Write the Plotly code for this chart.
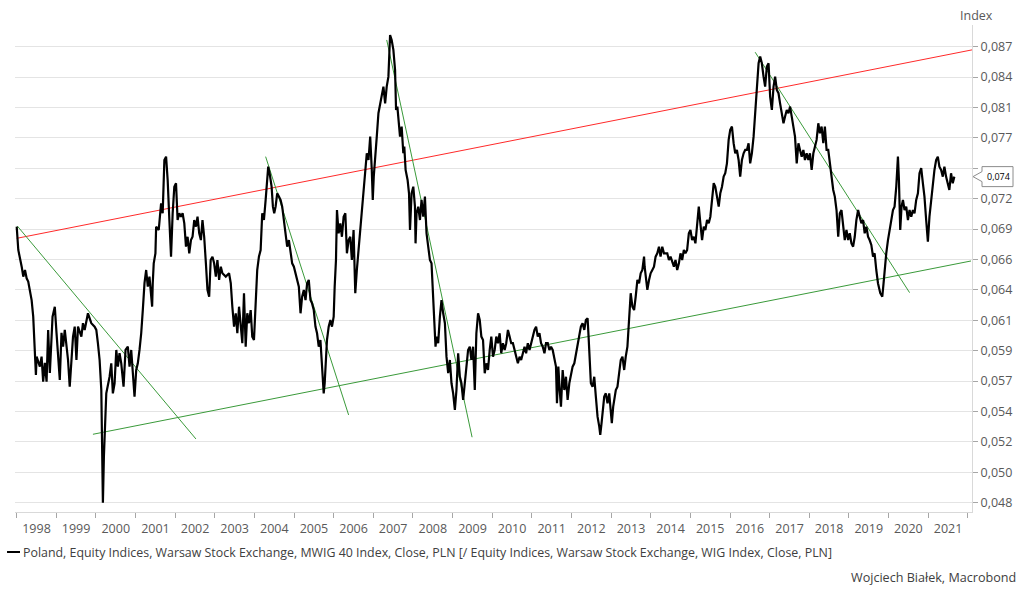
import numpy as np
import pandas as pd
import plotly.graph_objects as go

# ---------------- data ----------------
# decimal-year time stamps of the ratio MWIG40 / WIG
t = [1998.000, 1998.015, 1998.040, 1998.126, 1998.166, 1998.209, 1998.251, 1998.291, 1998.377, 1998.417,
     1998.460, 1998.485, 1998.503, 1998.585, 1998.628, 1998.668, 1998.711, 1998.754, 1998.794, 1998.837,
     1998.905, 1998.962, 1999.005, 1999.045, 1999.088, 1999.131, 1999.171, 1999.214, 1999.296, 1999.339,
     1999.382, 1999.422, 1999.465, 1999.508, 1999.548, 1999.633, 1999.673, 1999.716, 1999.799, 1999.884,
     1999.967, 2000.010, 2000.050, 2000.093, 2000.136, 2000.161, 2000.176, 2000.201, 2000.226, 2000.261,
     2000.344, 2000.387, 2000.427, 2000.470, 2000.513, 2000.553, 2000.595, 2000.638, 2000.696, 2000.746,
     2000.804, 2000.847, 2000.889, 2000.930, 2000.972, 2001.015, 2001.055, 2001.098, 2001.141, 2001.181,
     2001.224, 2001.266, 2001.307, 2001.349, 2001.392, 2001.417, 2001.432, 2001.457, 2001.500, 2001.518,
     2001.583, 2001.643, 2001.683, 2001.726, 2001.769, 2001.809, 2001.852, 2001.894, 2001.935, 2001.977,
     2002.020, 2002.060, 2002.103, 2002.146, 2002.186, 2002.229, 2002.271, 2002.312, 2002.354, 2002.397,
     2002.437, 2002.480, 2002.523, 2002.563, 2002.606, 2002.648, 2002.688, 2002.731, 2002.774, 2002.814,
     2002.857, 2002.895, 2002.940, 2002.982, 2003.025, 2003.065, 2003.108, 2003.151, 2003.191, 2003.276,
     2003.359, 2003.402, 2003.442, 2003.485, 2003.528, 2003.568, 2003.611, 2003.653, 2003.694, 2003.736,
     2003.779, 2003.819, 2003.862, 2003.905, 2003.945, 2003.988, 2004.030, 2004.070, 2004.113, 2004.156,
     2004.196, 2004.239, 2004.282, 2004.322, 2004.347, 2004.382, 2004.432, 2004.465, 2004.498, 2004.533,
     2004.573, 2004.616, 2004.658, 2004.699, 2004.741, 2004.784, 2004.824, 2004.867, 2004.910, 2004.950,
     2004.993, 2005.035, 2005.118, 2005.161, 2005.201, 2005.244, 2005.287, 2005.327, 2005.369, 2005.412,
     2005.452, 2005.495, 2005.538, 2005.578, 2005.621, 2005.663, 2005.704, 2005.746, 2005.771, 2005.804,
     2005.829, 2005.872, 2005.915, 2005.955, 2005.998, 2006.023, 2006.056, 2006.081, 2006.123, 2006.166,
     2006.206, 2006.249, 2006.292, 2006.332, 2006.375, 2006.417, 2006.457, 2006.500, 2006.543, 2006.583,
     2006.626, 2006.668, 2006.709, 2006.751, 2006.794, 2006.834, 2006.877, 2006.920, 2006.960, 2006.985,
     2007.010, 2007.045, 2007.086, 2007.128, 2007.171, 2007.211, 2007.254, 2007.297, 2007.337, 2007.380,
     2007.397, 2007.422, 2007.462, 2007.505, 2007.548, 2007.573, 2007.606, 2007.631, 2007.673, 2007.714,
     2007.756, 2007.781, 2007.814, 2007.864, 2007.900, 2007.925, 2007.965, 2008.008, 2008.050, 2008.065,
     2008.090, 2008.133, 2008.176, 2008.216, 2008.259, 2008.301, 2008.341, 2008.384, 2008.427, 2008.467,
     2008.510, 2008.535, 2008.568, 2008.593, 2008.635, 2008.678, 2008.718, 2008.761, 2008.804, 2008.844,
     2008.887, 2008.929, 2008.970, 2009.012, 2009.055, 2009.095, 2009.138, 2009.181, 2009.221, 2009.264,
     2009.306, 2009.347, 2009.389, 2009.432, 2009.472, 2009.515, 2009.558, 2009.598, 2009.641, 2009.683,
     2009.724, 2009.766, 2009.809, 2009.849, 2009.892, 2009.935, 2009.975, 2010.018, 2010.060, 2010.101,
     2010.143, 2010.186, 2010.226, 2010.269, 2010.312, 2010.352, 2010.395, 2010.437, 2010.478, 2010.520,
     2010.563, 2010.603, 2010.646, 2010.689, 2010.729, 2010.772, 2010.814, 2010.854, 2010.897, 2010.940,
     2010.980, 2011.023, 2011.065, 2011.106, 2011.148, 2011.191, 2011.231, 2011.274, 2011.317, 2011.357,
     2011.400, 2011.442, 2011.483, 2011.525, 2011.568, 2011.608, 2011.633, 2011.668, 2011.701, 2011.734,
     2011.777, 2011.819, 2011.860, 2011.902, 2011.945, 2011.985, 2012.028, 2012.071, 2012.111, 2012.153,
     2012.196, 2012.236, 2012.279, 2012.322, 2012.362, 2012.405, 2012.430, 2012.462, 2012.488, 2012.530,
     2012.573, 2012.613, 2012.656, 2012.699, 2012.724, 2012.756, 2012.781, 2012.824, 2012.864, 2012.907,
     2012.950, 2012.990, 2013.015, 2013.050, 2013.075, 2013.116, 2013.158, 2013.201, 2013.241, 2013.284,
     2013.327, 2013.367, 2013.409, 2013.435, 2013.467, 2013.492, 2013.535, 2013.578, 2013.618, 2013.661,
     2013.703, 2013.744, 2013.786, 2013.829, 2013.844, 2013.869, 2013.912, 2013.955, 2013.995, 2014.038,
     2014.080, 2014.121, 2014.163, 2014.206, 2014.246, 2014.289, 2014.332, 2014.415, 2014.457, 2014.498,
     2014.583, 2014.623, 2014.666, 2014.709, 2014.749, 2014.791, 2014.834, 2014.874, 2014.917, 2014.960,
     2015.000, 2015.043, 2015.085, 2015.126, 2015.168, 2015.211, 2015.251, 2015.294, 2015.337, 2015.377,
     2015.420, 2015.462, 2015.503, 2015.545, 2015.588, 2015.628, 2015.671, 2015.714, 2015.754, 2015.797,
     2015.839, 2015.879, 2015.922, 2015.965, 2016.005, 2016.048, 2016.090, 2016.131, 2016.173, 2016.216,
     2016.256, 2016.299, 2016.342, 2016.382, 2016.425, 2016.467, 2016.507, 2016.550, 2016.593, 2016.633,
     2016.676, 2016.719, 2016.759, 2016.801, 2016.844, 2016.884, 2016.927, 2016.970, 2017.010, 2017.053,
     2017.096, 2017.136, 2017.178, 2017.221, 2017.261, 2017.304, 2017.347, 2017.387, 2017.430, 2017.473,
     2017.513, 2017.555, 2017.598, 2017.638, 2017.681, 2017.724, 2017.764, 2017.807, 2017.849, 2017.889,
     2017.932, 2017.975, 2018.015, 2018.058, 2018.101, 2018.141, 2018.183, 2018.226, 2018.266, 2018.309,
     2018.352, 2018.392, 2018.435, 2018.477, 2018.518, 2018.560, 2018.603, 2018.643, 2018.686, 2018.729,
     2018.769, 2018.811, 2018.854, 2018.894, 2018.937, 2018.980, 2019.020, 2019.063, 2019.105, 2019.146,
     2019.188, 2019.231, 2019.271, 2019.314, 2019.357, 2019.397, 2019.440, 2019.482, 2019.522, 2019.565,
     2019.608, 2019.648, 2019.690, 2019.733, 2019.791, 2019.842, 2019.874, 2019.899, 2019.942, 2019.985,
     2020.025, 2020.068, 2020.111, 2020.151, 2020.194, 2020.236, 2020.261, 2020.294, 2020.327, 2020.362,
     2020.402, 2020.445, 2020.488, 2020.528, 2020.571, 2020.613, 2020.653, 2020.696, 2020.739, 2020.779,
     2020.822, 2020.864, 2020.904, 2020.947, 2020.990, 2021.030, 2021.073, 2021.115, 2021.156, 2021.198,
     2021.241, 2021.281, 2021.324, 2021.367, 2021.407, 2021.449, 2021.492, 2021.532, 2021.575, 2021.618,
     2021.658]

ratio = [0.06880, 0.06790, 0.06674, 0.06530, 0.06446, 0.06502, 0.06432, 0.06404, 0.06252, 0.06118,
         0.05858, 0.05670, 0.05807, 0.05732, 0.05807, 0.05621, 0.05760, 0.05621, 0.06013, 0.05685,
         0.06118, 0.06198, 0.05990, 0.05835, 0.05633, 0.05990, 0.05883, 0.06013, 0.05782, 0.05584,
         0.05807, 0.05961, 0.06039, 0.05782, 0.06039, 0.05961, 0.06066, 0.06013, 0.06145, 0.06066,
         0.06039, 0.06013, 0.05910, 0.05782, 0.05560, 0.05141, 0.04800, 0.05097, 0.05232, 0.05536,
         0.05657, 0.05757, 0.05536, 0.05609, 0.05858, 0.05732, 0.05833, 0.05757, 0.05584, 0.05858,
         0.05883, 0.05732, 0.05858, 0.05657, 0.05512, 0.05707, 0.05757, 0.05858, 0.05987, 0.06171,
         0.06391, 0.06502, 0.06362, 0.06446, 0.06279, 0.06198, 0.06391, 0.06559, 0.06645, 0.06880,
         0.06850, 0.07093, 0.07001, 0.07505, 0.07538, 0.07312, 0.06940, 0.06616, 0.07001, 0.07248,
         0.07281, 0.06940, 0.07001, 0.06970, 0.07001, 0.06910, 0.06703, 0.06790, 0.06645, 0.06761,
         0.06790, 0.06940, 0.06880, 0.06970, 0.06821, 0.06761, 0.06940, 0.06790, 0.06559, 0.06335,
         0.06279, 0.06587, 0.06616, 0.06559, 0.06446, 0.06587, 0.06418, 0.06530, 0.06474, 0.06446,
         0.06474, 0.06391, 0.06198, 0.06039, 0.06145, 0.05987, 0.06198, 0.06039, 0.05910, 0.06308,
         0.05883, 0.06145, 0.06066, 0.06171, 0.05961, 0.05935, 0.06198, 0.06502, 0.06616, 0.06674,
         0.07001, 0.06940, 0.07124, 0.07344, 0.07440, 0.07376, 0.07248, 0.07062, 0.07001, 0.07062,
         0.07186, 0.07155, 0.07124, 0.07062, 0.06940, 0.06821, 0.06703, 0.06761, 0.06645, 0.06559,
         0.06530, 0.06474, 0.06362, 0.06145, 0.06279, 0.06335, 0.06252, 0.06391, 0.06418, 0.06252,
         0.06225, 0.06171, 0.06039, 0.05987, 0.05883, 0.05935, 0.05732, 0.05536, 0.05609, 0.05807,
         0.05935, 0.06039, 0.06092, 0.06039, 0.06118, 0.06362, 0.06587, 0.07031, 0.06821, 0.06910,
         0.06790, 0.06970, 0.07001, 0.06645, 0.06761, 0.06790, 0.06587, 0.06850, 0.06308, 0.06502,
         0.06674, 0.06790, 0.06940, 0.07186, 0.07344, 0.07571, 0.07505, 0.07737, 0.07408, 0.07124,
         0.07344, 0.07571, 0.07737, 0.07977, 0.08081, 0.08188, 0.08259, 0.08081, 0.08259, 0.08367,
         0.08627, 0.08834, 0.08777, 0.08664, 0.08440, 0.08011, 0.08046, 0.07907, 0.07737, 0.07839,
         0.07571, 0.07637, 0.07408, 0.07312, 0.07186, 0.06850, 0.07186, 0.07248, 0.07062, 0.06732,
         0.07001, 0.07062, 0.06940, 0.07124, 0.06970, 0.07155, 0.06821, 0.06703, 0.06587, 0.06559,
         0.06252, 0.06013, 0.05883, 0.05961, 0.05910, 0.06118, 0.06252, 0.06145, 0.06066, 0.05807,
         0.05683, 0.05782, 0.05609, 0.05536, 0.05417, 0.05560, 0.05833, 0.05657, 0.05609, 0.05488,
         0.05609, 0.05782, 0.05858, 0.05883, 0.05782, 0.05883, 0.05560, 0.05987, 0.06145, 0.06092,
         0.05961, 0.05935, 0.05683, 0.05757, 0.05707, 0.05858, 0.05961, 0.05807, 0.05858, 0.05961,
         0.05910, 0.05987, 0.05833, 0.05910, 0.05858, 0.05910, 0.06013, 0.05961, 0.05910, 0.05910,
         0.05858, 0.05807, 0.05757, 0.05807, 0.05782, 0.05833, 0.05883, 0.05833, 0.05910, 0.05858,
         0.05910, 0.05961, 0.06013, 0.06039, 0.05961, 0.05987, 0.05910, 0.05883, 0.05833, 0.05910,
         0.05910, 0.05858, 0.05883, 0.05858, 0.05782, 0.05732, 0.05465, 0.05732, 0.05560, 0.05441,
         0.05707, 0.05560, 0.05657, 0.05488, 0.05609, 0.05657, 0.05732, 0.05757, 0.05833, 0.05910,
         0.05987, 0.06039, 0.06066, 0.06013, 0.06092, 0.06105, 0.05961, 0.05782, 0.05609, 0.05584,
         0.05657, 0.05512, 0.05370, 0.05301, 0.05244, 0.05324, 0.05417, 0.05512, 0.05536, 0.05465,
         0.05536, 0.05417, 0.05324, 0.05441, 0.05488, 0.05560, 0.05584, 0.05683, 0.05782, 0.05807,
         0.05707, 0.05807, 0.05883, 0.06013, 0.06198, 0.06308, 0.06198, 0.06171, 0.06279, 0.06418,
         0.06391, 0.06474, 0.06502, 0.06616, 0.06530, 0.06446, 0.06335, 0.06418, 0.06474, 0.06502,
         0.06530, 0.06616, 0.06645, 0.06703, 0.06616, 0.06703, 0.06645, 0.06645, 0.06587, 0.06616,
         0.06530, 0.06587, 0.06502, 0.06559, 0.06645, 0.06587, 0.06674, 0.06645, 0.06674, 0.06821,
         0.06850, 0.06761, 0.06790, 0.06732, 0.06880, 0.07062, 0.06910, 0.06761, 0.06880, 0.06850,
         0.06940, 0.06910, 0.06970, 0.07124, 0.07281, 0.07248, 0.07155, 0.07062, 0.07186, 0.07248,
         0.07344, 0.07376, 0.07472, 0.07704, 0.07805, 0.07839, 0.07671, 0.07571, 0.07604, 0.07505,
         0.07344, 0.07505, 0.07571, 0.07604, 0.07604, 0.07671, 0.07472, 0.07571, 0.07737, 0.07977,
         0.08223, 0.08514, 0.08589, 0.08514, 0.08367, 0.08259, 0.08477, 0.08514, 0.08152, 0.08011,
         0.08259, 0.08367, 0.08223, 0.08188, 0.08081, 0.07977, 0.07873, 0.07942, 0.08011, 0.07977,
         0.08046, 0.07942, 0.07839, 0.07737, 0.07472, 0.07671, 0.07604, 0.07538, 0.07604, 0.07505,
         0.07571, 0.07505, 0.07571, 0.07408, 0.07571, 0.07637, 0.07704, 0.07873, 0.07771, 0.07839,
         0.07671, 0.07839, 0.07604, 0.07604, 0.07472, 0.07376, 0.07217, 0.07155, 0.07031, 0.06790,
         0.07001, 0.07031, 0.06910, 0.06761, 0.06850, 0.06761, 0.06821, 0.06732, 0.06703, 0.06790,
         0.06940, 0.07031, 0.06970, 0.06910, 0.06940, 0.06821, 0.06880, 0.06790, 0.06761, 0.06718,
         0.06616, 0.06645, 0.06502, 0.06391, 0.06308, 0.06279, 0.06391, 0.06502, 0.06645, 0.06761,
         0.06850, 0.06940, 0.07031, 0.07062, 0.07248, 0.07538, 0.07312, 0.06850, 0.07062, 0.07124,
         0.07031, 0.07062, 0.06940, 0.07031, 0.06970, 0.07031, 0.07001, 0.07124, 0.07186, 0.07376,
         0.07425, 0.07281, 0.07155, 0.06940, 0.06746, 0.06970, 0.07124, 0.07281, 0.07408, 0.07505,
         0.07538, 0.07440, 0.07408, 0.07344, 0.07440, 0.07344, 0.07281, 0.07217, 0.07376, 0.07281,
         0.07344]

# hand-drawn trend lines: (start, end) in decimal years and index values
red_t = [1998.000, 2022.104]
red_v = [0.06776, 0.08664]
support_t = [1999.925, 2022.079]
support_v = [0.05248, 0.06579]
down1_t = [1998.015, 2002.523]
down1_v = [0.06886, 0.05216]
down2_t = [2004.282, 2006.375]
down2_v = [0.07538, 0.05382]
down3_t = [2007.337, 2009.490]
down3_v = [0.08777, 0.05228]
down4_t = [2016.633, 2020.529]
down4_v = [0.08638, 0.06313]

y_tick_text = ["0,048", "0,050", "0,052", "0,054", "0,057", "0,059", "0,061", "0,064",
               "0,066", "0,069", "0,072", "", "0,077", "0,081", "0,084", "0,087"]
y_tick_low, y_tick_high = 0.048, 0.087
last_label = "0,074"

series_name = ("Poland, Equity Indices, Warsaw Stock Exchange, MWIG 40 Index, Close, PLN "
               "[/ Equity Indices, Warsaw Stock Exchange, WIG Index, Close, PLN]")
source_text = "Wojciech Białek, Macrobond"


def to_dates(years):
    out = []
    for y in years:
        yr = int(np.floor(y))
        a = pd.Timestamp(year=yr, month=1, day=1)
        b = pd.Timestamp(year=yr + 1, month=1, day=1)
        out.append(a + (b - a) * (y - yr))
    return out


# ---------------- figure ----------------
FONT = "Open Sans, Noto Sans, DejaVu Sans, sans-serif"
GREY_TXT = "#595959"
GREEN = "#3a9a3a"

fig = go.Figure()
for tt, vv, col in [(red_t, red_v, "#ff2a2a"), (support_t, support_v, GREEN),
                    (down1_t, down1_v, GREEN), (down2_t, down2_v, GREEN),
                    (down3_t, down3_v, GREEN), (down4_t, down4_v, GREEN)]:
    fig.add_trace(go.Scatter(x=to_dates(tt), y=vv, mode="lines",
                             line=dict(color=col, width=1), showlegend=False,
                             hoverinfo="skip"))

fig.add_trace(go.Scatter(x=to_dates(t), y=ratio, mode="lines", name=series_name,
                         line=dict(color="black", width=2.2), showlegend=False))

tickvals = np.geomspace(y_tick_low, y_tick_high, len(y_tick_text))
step = np.log10(tickvals[1]) - np.log10(tickvals[0])
r0 = np.log10(y_tick_low) - 0.306 * step
r1 = np.log10(y_tick_high) + 0.714 * step

W, H = 1024, 594
ml, mr, mt, mb = 15, 48, 25, 82
pw, ph = W - ml - mr, H - mt - mb

fig.update_layout(
    width=W, height=H, autosize=False,
    margin=dict(l=ml, r=mr, t=mt, b=mb, pad=0),
    paper_bgcolor="white", plot_bgcolor="white",
    font=dict(family=FONT, size=12, color=GREY_TXT),
    showlegend=False,
    xaxis=dict(
        type="date",
        range=[to_dates([1997.957])[0], to_dates([2022.104])[0]],
        tick0="1998-01-01", dtick="M12", tickformat="%Y",
        ticklabelmode="period",
        ticks="outside", ticklen=5, tickcolor="#a6a6a6", tickwidth=1,
        showline=True, linecolor="#d9d9d9", linewidth=1,
        showgrid=False, zeroline=False,
        tickfont=dict(size=12.5, color=GREY_TXT),
    ),
    yaxis=dict(
        type="log", side="right",
        range=[r0, r1],
        tickvals=list(tickvals), ticktext=y_tick_text,
        ticks="outside", ticklen=5, tickcolor="#a6a6a6", tickwidth=1,
        showline=True, linecolor="#d9d9d9", linewidth=1,
        showgrid=True, gridcolor="#e4e4e4", gridwidth=1,
        zeroline=False,
        tickfont=dict(size=12.5, color=GREY_TXT),
    ),
)

# last value callout on the right axis
last_paper_y = (np.log10(ratio[-1]) - r0) / (r1 - r0)
fig.add_shape(type="path", xref="paper", yref="paper",
              xsizemode="pixel", ysizemode="pixel", xanchor=1, yanchor=last_paper_y,
              path="M 1,0 L 10,5 L 10,10 L 41,10 L 41,-10 L 10,-10 L 10,-5 Z",
              fillcolor="white", line=dict(color="#8c8c8c", width=1), layer="above")
fig.add_annotation(x=1, y=last_paper_y, xref="paper", yref="paper", xanchor="center",
                   yanchor="middle", xshift=26, showarrow=False, text=last_label,
                   font=dict(size=9, color="black", family=FONT))

# axis unit label
fig.add_annotation(x=1, y=1, xref="paper", yref="paper", xanchor="center", yanchor="bottom",
                   xshift=4, yshift=-1, showarrow=False, text="Index",
                   font=dict(size=12.5, color=GREY_TXT))

# legend row (line sample + text)
leg_y = (H - mb - 552) / ph
fig.add_shape(type="line", xref="paper", yref="paper",
              x0=(7 - ml) / pw, x1=(20 - ml) / pw, y0=leg_y, y1=leg_y,
              line=dict(color="black", width=2))
fig.add_annotation(x=(21 - ml) / pw, y=leg_y, xref="paper", yref="paper",
                   xanchor="left", yanchor="middle", showarrow=False,
                   text=series_name, font=dict(size=12.4, color="#404040"))

# source
fig.add_annotation(x=(1022 - ml) / pw, y=(H - mb - 577) / ph, xref="paper", yref="paper",
                   xanchor="right", yanchor="middle", showarrow=False,
                   text=source_text, font=dict(size=12.6, color="#404040"))

fig.write_html("out.html", config={"displayModeBar": False},
               post_script="document.body.style.margin='0';")
